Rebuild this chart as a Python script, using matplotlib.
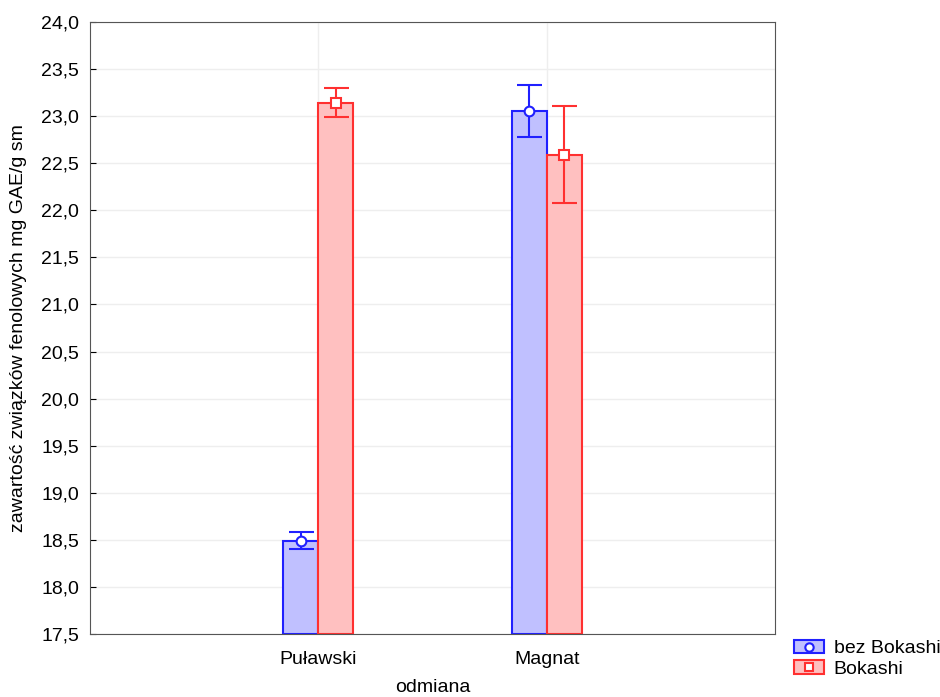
import matplotlib
matplotlib.use('Agg')
import matplotlib.pyplot as plt
import numpy as np
from matplotlib.patches import Patch
from matplotlib.lines import Line2D

plt.rcParams['font.family'] = ['Liberation Sans', 'DejaVu Sans']

odmiany = ['Puławski', 'Magnat']
series = ['bez Bokashi', 'Bokashi']
means_bez = [18.49, 23.05]
low_bez = [18.40, 22.78]
high_bez = [18.58, 23.33]
means_bok = [23.14, 22.59]
low_bok = [22.99, 22.08]
high_bok = [23.30, 23.11]

fs = 14

fig = plt.figure(figsize=(9.4, 6.97), dpi=100)
ax = fig.add_axes([90/940, 1 - 634/697, 685/940, 612/697])

x = np.arange(len(odmiany))
w = 0.153
base = 17.5

# bars start at the axis bottom
ax.bar(x - w/2, np.array(means_bez) - base, w, bottom=base, color='#c0c0ff',
       edgecolor='#2020ff', linewidth=1.5, zorder=2)
ax.bar(x + w/2, np.array(means_bok) - base, w, bottom=base, color='#ffc0c0',
       edgecolor='#ff3030', linewidth=1.5, zorder=2)

err_bez = [np.array(means_bez) - np.array(low_bez), np.array(high_bez) - np.array(means_bez)]
err_bok = [np.array(means_bok) - np.array(low_bok), np.array(high_bok) - np.array(means_bok)]
ax.errorbar(x - w/2, means_bez, yerr=err_bez, fmt='o', color='#2020ff', mfc='white',
            mec='#2020ff', ms=7, mew=1.5, capsize=9, elinewidth=1.5, capthick=2, zorder=3)
ax.errorbar(x + w/2, means_bok, yerr=err_bok, fmt='s', color='#ff3030', mfc='white',
            mec='#ff3030', ms=7, mew=1.5, capsize=9, elinewidth=1.5, capthick=2, zorder=3)

ax.set_xlim(-1, 2)
ax.set_ylim(17.5, 24.0)
ax.set_xticks(x)
ax.set_xticklabels(odmiany, fontsize=fs)
yt = np.arange(17.5, 24.01, 0.5)
ax.set_yticks(yt)
ax.set_yticklabels([f'{v:.1f}'.replace('.', ',') for v in yt], fontsize=fs)
ax.tick_params(axis='y', direction='in', length=4, pad=8)
ax.tick_params(axis='x', length=0, pad=12)
ax.grid(True, color='#eeeeee', linewidth=1, zorder=0)
ax.set_axisbelow(True)
for s in ax.spines.values():
    s.set_color('#555555')

ax.set_ylabel('zawartość związków fenolowych mg GAE/g sm', fontsize=fs, labelpad=10)
ax.set_xlabel('odmiana', fontsize=fs, labelpad=8)

handles = [
    (Patch(facecolor='#c0c0ff', edgecolor='#2020ff', linewidth=1.5),
     Line2D([], [], marker='o', ls='', mfc='white', mec='#2020ff', ms=6, mew=1.5)),
    (Patch(facecolor='#ffc0c0', edgecolor='#ff3030', linewidth=1.5),
     Line2D([], [], marker='s', ls='', mfc='white', mec='#ff3030', ms=6, mew=1.5)),
]
fig.legend(handles, series, loc='upper left', bbox_to_anchor=(786/940, 1 - 632/697),
           frameon=False, fontsize=fs, handlelength=1.55, handleheight=0.7,
           handletextpad=0.5, labelspacing=0.15, borderaxespad=0)

plt.savefig('out.png', dpi=100)
